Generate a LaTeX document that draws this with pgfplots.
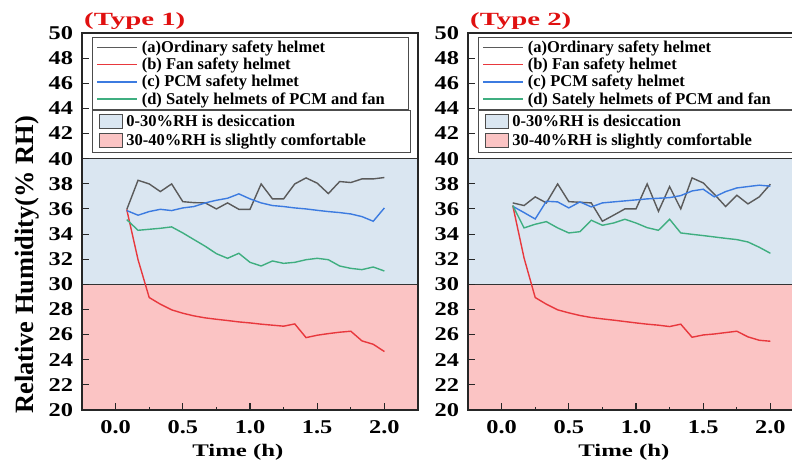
\documentclass[border=0pt]{standalone}
\usepackage{fontspec}
\setmainfont{Liberation Serif}
\usepackage{pgfplots}
\pgfplotsset{compat=1.18}

\definecolor{cgray}{HTML}{5A5A5A}
\definecolor{cred}{HTML}{E8383D}
\definecolor{cblue}{HTML}{3C7BE0}
\definecolor{cgreen}{HTML}{3FAE80}
\definecolor{bluefill}{HTML}{DAE6F1}
\definecolor{pinkfill}{HTML}{FBC4C4}
\definecolor{titlered}{HTML}{E01010}

% horizontal stretch helper
\newcommand{\hs}[2]{\scalebox{#1}[1]{#2}}

% time (h), (a) ordinary, (b) fan, (c) PCM, (d) PCM + fan
\pgfplotstableread{
t a b c d
0.083 35.95 35.95 35.87 35.15
0.167 38.28 31.96 35.50 34.30
0.250 37.99 28.95 35.79 34.38
0.333 37.38 28.42 35.97 34.46
0.417 37.99 27.97 35.87 34.57
0.500 36.58 27.70 36.08 34.09
0.583 36.50 27.49 36.19 33.56
0.667 36.48 27.33 36.48 33.03
0.750 36.00 27.22 36.69 32.44
0.833 36.48 27.12 36.85 32.07
0.917 35.97 27.01 37.20 32.47
1.000 35.97 26.93 36.80 31.75
1.083 37.99 26.83 36.48 31.46
1.167 36.80 26.75 36.27 31.86
1.250 36.80 26.67 36.19 31.67
1.333 37.99 26.85 36.08 31.75
1.417 38.47 25.76 36.00 31.96
1.500 38.05 25.95 35.89 32.07
1.583 37.22 26.08 35.79 31.96
1.667 38.18 26.19 35.71 31.46
1.750 38.10 26.27 35.60 31.27
1.833 38.39 25.50 35.39 31.17
1.917 38.39 25.23 35.02 31.38
2.000 38.50 24.65 36.08 31.06
}\typeone

\pgfplotstableread{
t a b c d
0.083 36.48 36.27 36.21 36.27
0.167 36.27 32.10 35.71 34.49
0.250 36.96 28.95 35.20 34.78
0.333 36.48 28.42 36.61 34.99
0.417 37.99 27.97 36.56 34.49
0.500 36.58 27.73 36.08 34.09
0.583 36.53 27.52 36.56 34.19
0.667 36.48 27.36 36.16 35.10
0.750 35.02 27.25 36.48 34.70
0.833 35.50 27.15 36.56 34.88
0.917 36.00 27.04 36.64 35.18
1.000 36.00 26.93 36.72 34.88
1.083 37.99 26.83 36.80 34.51
1.167 35.81 26.75 36.85 34.30
1.250 37.78 26.64 36.90 35.18
1.333 36.00 26.83 37.06 34.09
1.417 38.47 25.79 37.43 33.98
1.500 38.07 25.97 37.57 33.88
1.583 37.17 26.05 36.96 33.77
1.667 36.19 26.16 37.38 33.66
1.750 37.09 26.27 37.67 33.56
1.833 36.40 25.82 37.78 33.37
1.917 36.96 25.55 37.89 32.95
2.000 37.97 25.47 37.81 32.47
}\typetwo

\pgfplotsset{
  lineleg/.style={legend image code/.code={\draw[##1] (0pt,0pt) -- (40pt,0pt);}},
  panel/.style={
    scale only axis, width=336pt, height=377pt,
    anchor=south west,
    xmin=-0.25, xmax=2.25, ymin=20, ymax=50,
    xtick={0,0.5,...,2}, minor x tick num=1,
    ytick={20,22,...,50},
    xtick pos=left, ytick pos=left, tick align=inside,
    major tick length=7pt, minor tick length=3.5pt,
    axis line style={line width=1.3pt, black!85},
    tick style={line width=1.1pt, black!85},
    /pgf/number format/assume math mode=true,
    tick label style={font=\bfseries\fontsize{19.5}{20}\selectfont},
    xticklabel={\hs{1.25}{\pgfmathprintnumber[fixed,fixed zerofill,precision=1]{\tick}}},
    yticklabel={\hs{1.25}{\pgfmathprintnumber{\tick}}},
    xticklabel style={yshift=-7pt},
    yticklabel style={xshift=-5.5pt},
    xlabel={\hs{1.4}{Time (h)}},
    xlabel style={at={(axis description cs:0.464,0)}, anchor=base, yshift=-46pt,
      font=\bfseries\fontsize{17.7}{20}\selectfont},
    title style={at={(rel axis cs:0,1)}, anchor=base west, inner sep=0pt,
      xshift=2pt, yshift=2pt, text=titlered,
      font=\bfseries\fontsize{18.6}{20}\selectfont},
    legend style={at={(0.0298,0.989)}, anchor=north west, draw=black!70,
      line width=0.8pt, fill=white, inner xsep=4pt, inner ysep=3.5pt,
      column sep=3pt, row sep=4pt, nodes={inner xsep=1pt, inner ysep=0pt},
      cells={anchor=west},
      font=\bfseries\fontsize{16.5}{18}\selectfont},
    lineleg,
  },
  zones/.style={
    panel, hide axis,
    legend style={at={(0.0298,0.796)}, anchor=north west,
      inner ysep=4pt, row sep=4pt},
    legend image code/.code={\path (0pt,0pt);
      \draw[##1, draw=black!70, line width=0.8pt] (2pt,-7pt) rectangle (25pt,7pt);},
  },
  every axis plot/.append style={line width=1.4pt},
}

\begin{document}
\begin{tikzpicture}
\path[use as bounding box] (0pt,0pt) rectangle (792pt,463pt);

% ---- Type 1 ----
\begin{axis}[zones, at={(82pt,53pt)}]
\addplot[fill=bluefill, draw=black!80, line width=1pt] coordinates {(-0.3,30) (-0.3,40) (2.3,40) (2.3,30)} -- cycle;
\addlegendentry{\makebox[279pt][l]{0-30\%RH is desiccation}}
\addplot[fill=pinkfill, draw=black!80, line width=1pt] coordinates {(-0.3,19) (-0.3,30) (2.3,30) (2.3,19)} -- cycle;
\addlegendentry{\makebox[279pt][l]{30-40\%RH is slightly comfortable}}
\end{axis}

\begin{axis}[panel, at={(82pt,53pt)}, title={\hs{1.55}{(Type 1)}},
  ylabel={Relative Humidity(\% RH)},
  every axis y label/.style={at={(axis description cs:0,0.385)}, xshift=-49pt,
    rotate=90, anchor=base, font=\bfseries\fontsize{26.4}{30}\selectfont}]
\addplot[cgray, lineleg] table[x=t, y=a] {\typeone};
\addlegendentry{\makebox[262pt][l]{(a)Ordinary safety helmet}}
\addplot[cred, lineleg] table[x=t, y=b] {\typeone};
\addlegendentry{\makebox[262pt][l]{(b) Fan safety helmet}}
\addplot[cblue, lineleg] table[x=t, y=c] {\typeone};
\addlegendentry{\makebox[262pt][l]{(c) PCM safety helmet}}
\addplot[cgreen, lineleg] table[x=t, y=d] {\typeone};
\addlegendentry{\makebox[262pt][l]{(d) Sately helmets of PCM and fan}}
\end{axis}

% ---- Type 2 ----
\begin{axis}[zones, at={(468pt,53pt)}]
\addplot[fill=bluefill, draw=black!80, line width=1pt] coordinates {(-0.3,30) (-0.3,40) (2.3,40) (2.3,30)} -- cycle;
\addlegendentry{\makebox[279pt][l]{0-30\%RH is desiccation}}
\addplot[fill=pinkfill, draw=black!80, line width=1pt] coordinates {(-0.3,19) (-0.3,30) (2.3,30) (2.3,19)} -- cycle;
\addlegendentry{\makebox[279pt][l]{30-40\%RH is slightly comfortable}}
\end{axis}

\begin{axis}[panel, at={(468pt,53pt)}, title={\hs{1.55}{(Type 2)}}]
\addplot[cgray, lineleg] table[x=t, y=a] {\typetwo};
\addlegendentry{\makebox[262pt][l]{(a)Ordinary safety helmet}}
\addplot[cred, lineleg] table[x=t, y=b] {\typetwo};
\addlegendentry{\makebox[262pt][l]{(b) Fan safety helmet}}
\addplot[cblue, lineleg] table[x=t, y=c] {\typetwo};
\addlegendentry{\makebox[262pt][l]{(c) PCM safety helmet}}
\addplot[cgreen, lineleg] table[x=t, y=d] {\typetwo};
\addlegendentry{\makebox[262pt][l]{(d) Sately helmets of PCM and fan}}
\end{axis}
\end{tikzpicture}
\end{document}
